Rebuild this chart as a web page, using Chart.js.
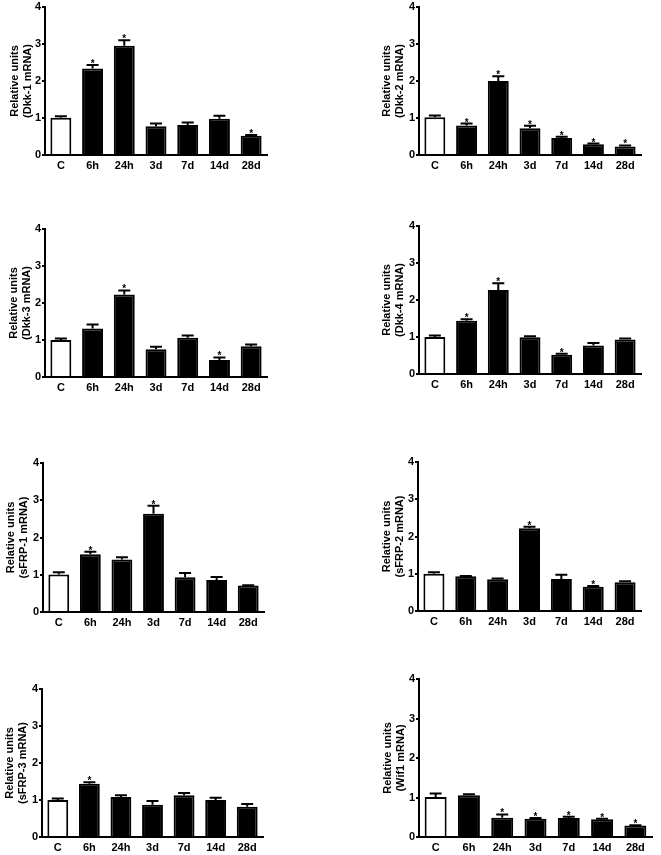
<!DOCTYPE html>
<html>
<head>
<meta charset="utf-8">
<script src="https://cdn.jsdelivr.net/npm/chart.js@4/dist/chart.umd.min.js"></script>
<style>
  html, body { margin: 0; padding: 0; background: #fff; }
  body { width: 661px; height: 855px; position: relative; overflow: hidden; }
  canvas { position: absolute; }
</style>
</head>
<body>
<script>
// ---- Data ----
const categories = ['C', '6h', '24h', '3d', '7d', '14d', '28d'];
const yTicks = [0, 1, 2, 3, 4];

const dkk1Means  = [1.01, 2.34, 2.95, 0.78, 0.81, 0.98, 0.52];
const dkk1Errors = [0.04, 0.09, 0.15, 0.07, 0.07, 0.08, 0.02];
const dkk1Stars  = [false, true, true, false, false, false, true];

const dkk2Means  = [1.02, 0.80, 2.00, 0.72, 0.46, 0.29, 0.23];
const dkk2Errors = [0.05, 0.05, 0.13, 0.07, 0.03, 0.02, 0.03];
const dkk2Stars  = [false, true, true, true, true, true, true];

const dkk3Means  = [1.00, 1.31, 2.23, 0.75, 1.06, 0.46, 0.83];
const dkk3Errors = [0.04, 0.11, 0.11, 0.07, 0.06, 0.07, 0.05];
const dkk3Stars  = [false, false, true, false, false, true, false];

const dkk4Means  = [1.00, 1.44, 2.27, 0.99, 0.52, 0.77, 0.93];
const dkk4Errors = [0.04, 0.04, 0.18, 0.03, 0.03, 0.07, 0.03];
const dkk4Stars  = [false, true, true, false, true, false, false];

const sfrp1Means  = [1.01, 1.55, 1.41, 2.64, 0.93, 0.86, 0.71];
const sfrp1Errors = [0.06, 0.07, 0.06, 0.21, 0.12, 0.08, 0.01];
const sfrp1Stars  = [false, true, false, true, false, false, false];

const sfrp2Means  = [1.00, 0.93, 0.85, 2.22, 0.86, 0.65, 0.77];
const sfrp2Errors = [0.04, 0.01, 0.02, 0.04, 0.11, 0.02, 0.03];
const sfrp2Stars  = [false, false, false, true, false, true, false];

const sfrp3Means  = [1.00, 1.44, 1.08, 0.87, 1.13, 1.00, 0.82];
const sfrp3Errors = [0.04, 0.04, 0.05, 0.10, 0.06, 0.06, 0.07];
const sfrp3Stars  = [false, true, false, false, false, false, false];

const wif1Means  = [1.01, 1.06, 0.49, 0.46, 0.48, 0.45, 0.29];
const wif1Errors = [0.09, 0.02, 0.08, 0.02, 0.03, 0.01, 0.01];
const wif1Stars  = [false, false, true, true, true, true, true];

// ---- Layout (positions only) ----
const panels = [
  { gene: 'Dkk-1',  means: dkk1Means,  errors: dkk1Errors,  stars: dkk1Stars,  colLeft: 0,   axisX: 45,  right: 267, top: 7,   bottom: 155, titleX: 15 },
  { gene: 'Dkk-2',  means: dkk2Means,  errors: dkk2Errors,  stars: dkk2Stars,  colLeft: 330, axisX: 419, right: 641, top: 7,   bottom: 155, titleX: 387 },
  { gene: 'Dkk-3',  means: dkk3Means,  errors: dkk3Errors,  stars: dkk3Stars,  colLeft: 0,   axisX: 45,  right: 267, top: 229, bottom: 377, titleX: 14 },
  { gene: 'Dkk-4',  means: dkk4Means,  errors: dkk4Errors,  stars: dkk4Stars,  colLeft: 330, axisX: 419, right: 641, top: 226, bottom: 374, titleX: 387 },
  { gene: 'sFRP-1', means: sfrp1Means, errors: sfrp1Errors, stars: sfrp1Stars, colLeft: 0,   axisX: 43,  right: 264, top: 463, bottom: 612, titleX: 11 },
  { gene: 'sFRP-2', means: sfrp2Means, errors: sfrp2Errors, stars: sfrp2Stars, colLeft: 330, axisX: 418, right: 641, top: 462, bottom: 611, titleX: 387 },
  { gene: 'sFRP-3', means: sfrp3Means, errors: sfrp3Errors, stars: sfrp3Stars, colLeft: 0,   axisX: 42,  right: 263, top: 689, bottom: 837, titleX: 10 },
  { gene: 'Wif1',   means: wif1Means,  errors: wif1Errors,  stars: wif1Stars,  colLeft: 330, axisX: 419, right: 652, top: 679, bottom: 837, titleX: 388 }
];

const FONT = '"Liberation Sans", Arial, Helvetica, sans-serif';
const PAD_TOP = 9, PAD_RIGHT = 6, X_AXIS_H = 18;

const errorBarPlugin = {
  id: 'errorBars',
  afterDatasetsDraw(chart) {
    const ctx = chart.ctx;
    const meta = chart.getDatasetMeta(0);
    const y = chart.scales.y;
    const ds = chart.data.datasets[0];
    ctx.save();
    ctx.strokeStyle = '#000';
    ctx.lineWidth = 2;
    meta.data.forEach((bar, i) => {
      const v = ds.data[i];
      const e = ds.errors[i];
      const y0 = y.getPixelForValue(v);
      const y1 = y.getPixelForValue(v + e);
      ctx.beginPath();
      ctx.moveTo(bar.x, y0);
      ctx.lineTo(bar.x, y1);
      ctx.moveTo(bar.x - 6, y1);
      ctx.lineTo(bar.x + 6, y1);
      ctx.stroke();
      if (ds.stars[i]) {
        ctx.fillStyle = '#000';
        ctx.font = 'bold 10px ' + FONT;
        ctx.textAlign = 'center';
        ctx.textBaseline = 'alphabetic';
        ctx.fillText('*', bar.x, y1 + 2);
      }
    });
    ctx.restore();
  }
};

panels.forEach(p => {
  const cv = document.createElement('canvas');
  const cLeft = p.colLeft;
  const cTop = p.top - PAD_TOP;
  const w = p.right + PAD_RIGHT - cLeft;
  const h = p.bottom + X_AXIS_H - cTop;
  cv.width = w; cv.height = h;
  cv.style.left = cLeft + 'px';
  cv.style.top = cTop + 'px';
  cv.style.width = w + 'px';
  cv.style.height = h + 'px';
  document.body.appendChild(cv);

  const titleFontSize = 11;
  const titleLH = titleFontSize * 1.2;
  const titlePad = p.titleX - cLeft - titleLH / 2;

  new Chart(cv, {
    type: 'bar',
    data: {
      labels: categories,
      datasets: [{
        data: p.means,
        errors: p.errors,
        stars: p.stars,
        backgroundColor: p.means.map((_, i) => i === 0 ? '#ffffff' : '#000000'),
        borderColor: '#000000',
        borderWidth: 2,
        borderSkipped: 'bottom',
        categoryPercentage: 1,
        barPercentage: 0.66
      }]
    },
    options: {
      responsive: false,
      animation: false,
      devicePixelRatio: 1,
      events: [],
      layout: { padding: { top: PAD_TOP, right: PAD_RIGHT, left: 0, bottom: 0 } },
      plugins: { legend: { display: false }, tooltip: { enabled: false } },
      scales: {
        x: {
          grid: { display: false, drawTicks: false },
          border: { display: true, color: '#000', width: 2 },
          ticks: { color: '#000', font: { family: FONT, size: 11, weight: 'bold' }, padding: 4, maxRotation: 0, autoSkip: false },
          afterFit(scale) { scale.height = X_AXIS_H; }
        },
        y: {
          min: 0, max: 4,
          afterBuildTicks(scale) { scale.ticks = yTicks.map(v => ({ value: v })); },
          grid: { drawOnChartArea: false, drawTicks: true, tickLength: 3, color: '#000', lineWidth: 2 },
          border: { display: true, color: '#000', width: 2 },
          ticks: { color: '#000', font: { family: FONT, size: 11, weight: 'bold' }, padding: 1 },
          title: {
            display: true,
            text: ['Relative units', '(' + p.gene + ' mRNA)'],
            color: '#000',
            font: { family: FONT, size: titleFontSize, weight: 'bold', lineHeight: 1.2 },
            padding: { top: titlePad, bottom: 0 }
          },
          afterFit(scale) { scale.width = p.axisX - cLeft; }
        }
      }
    },
    plugins: [errorBarPlugin]
  });
});
</script>
</body>
</html>
